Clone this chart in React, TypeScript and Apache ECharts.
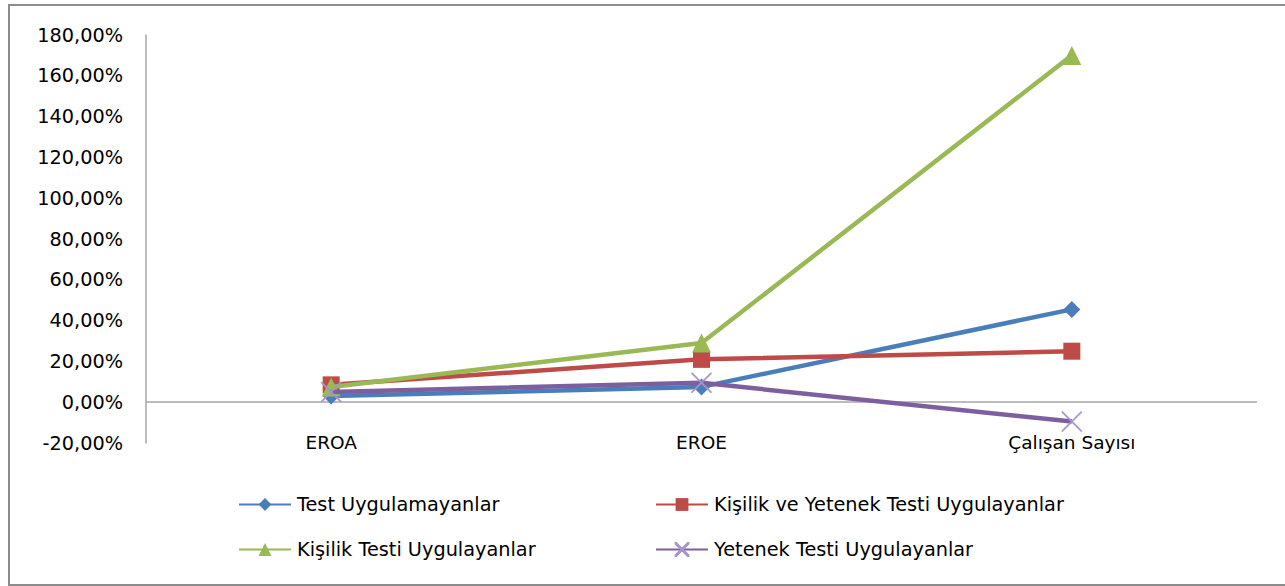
import React, { useEffect, useRef } from "react";
import * as echarts from "echarts";

const categories = ["EROA", "EROE", "Çalışan Sayısı"];
const seriesNames = [
  "Test Uygulamayanlar",
  "Kişilik ve Yetenek Testi Uygulayanlar",
  "Kişilik Testi Uygulayanlar",
  "Yetenek Testi Uygulayanlar",
];
const testUygulamayanlar = [3, 7.5, 45.5];
const kisilikVeYetenek = [8.5, 21, 25];
const kisilikTesti = [7.5, 29, 170];
const yetenekTesti = [5, 9.5, -9.5];
const yTicks = { min: -20, max: 180, interval: 20 };

const colors = ["#4A7EBB", "#BE4B48", "#98B954", "#7D5FA0"];
const crossPath = "path://M0,0 L1,0 L10,9 L19,0 L20,0 L20,1 L11,10 L20,19 L20,20 L19,20 L10,11 L1,20 L0,20 L0,19 L9,10 L0,1 Z";

export default function App() {
  const ref = useRef<HTMLDivElement>(null);
  useEffect(() => {
    document.body.style.margin = "0";
    const chart = echarts.init(ref.current!, null, { renderer: "svg" });
    const font = "'DejaVu Sans', 'Open Sans', sans-serif";
    const values = [testUygulamayanlar, kisilikVeYetenek, kisilikTesti, yetenekTesti];
    const symbols = ["diamond", "rect", "triangle", crossPath];
    const sizes = [17, 17, 19, 20];
    const legendPos = [
      { left: 238, top: 495 },
      { left: 655, top: 495 },
      { left: 238, top: 540 },
      { left: 655, top: 540 },
    ];
    const series: any[] = values.map((v, i) => ({
      name: seriesNames[i],
      type: "line",
      data: v,
      symbol: symbols[i],
      symbolSize: sizes[i],
      lineStyle: { width: 4.5, color: colors[i] },
      itemStyle: i === 3 ? { color: "#A596C8", borderColor: "#A596C8", borderWidth: 0.5 } : { color: colors[i] },
      z: [2, 3, 4, 5][i],
    }));
    series[0].markLine = {
      silent: true,
      symbol: "none",
      label: { show: false },
      lineStyle: { color: "#A6A6A6", width: 1.5, type: "solid" },
      data: [{ yAxis: 0 }],
      z: 1,
    };
    chart.setOption({
      animation: false,
      backgroundColor: "#ffffff",
      color: colors,
      graphic: [
        {
          type: "rect",
          shape: { x: 9, y: 5, width: 1290, height: 580 },
          style: { fill: "none", stroke: "#8C8C8C", lineWidth: 2 },
          silent: true,
        },
      ],
      legend: legendPos.map((p, i) => ({
        data: [seriesNames[i]],
        left: p.left,
        top: p.top,
        padding: 0,
        itemWidth: 52,
        itemHeight: 16,
        itemGap: 6,
        textStyle: { fontFamily: font, fontSize: 19.3, color: "#000", padding: [0, 0, 0, 1] },
      })),
      grid: { left: 146, top: 35, right: 28, bottom: 143 },
      xAxis: {
        type: "category",
        data: categories,
        boundaryGap: true,
        axisLine: { show: false, onZero: false },
        axisTick: { show: false },
        axisLabel: { margin: -10, fontFamily: font, fontSize: 18.5, color: "#000" },
      },
      yAxis: {
        type: "value",
        min: yTicks.min,
        max: yTicks.max,
        interval: yTicks.interval,
        splitLine: { show: false },
        axisLine: { show: true, lineStyle: { color: "#A6A6A6", width: 1.5 } },
        axisTick: { show: false },
        axisLabel: {
          margin: 23,
          fontFamily: font,
          fontSize: 19.3,
          color: "#000",
          formatter: (v: number) => v.toFixed(2).replace(".", ",") + "%",
        },
      },
      series,
    });
    return () => chart.dispose();
  }, []);
  return <div ref={ref} style={{ width: 1285, height: 586 }} />;
}
